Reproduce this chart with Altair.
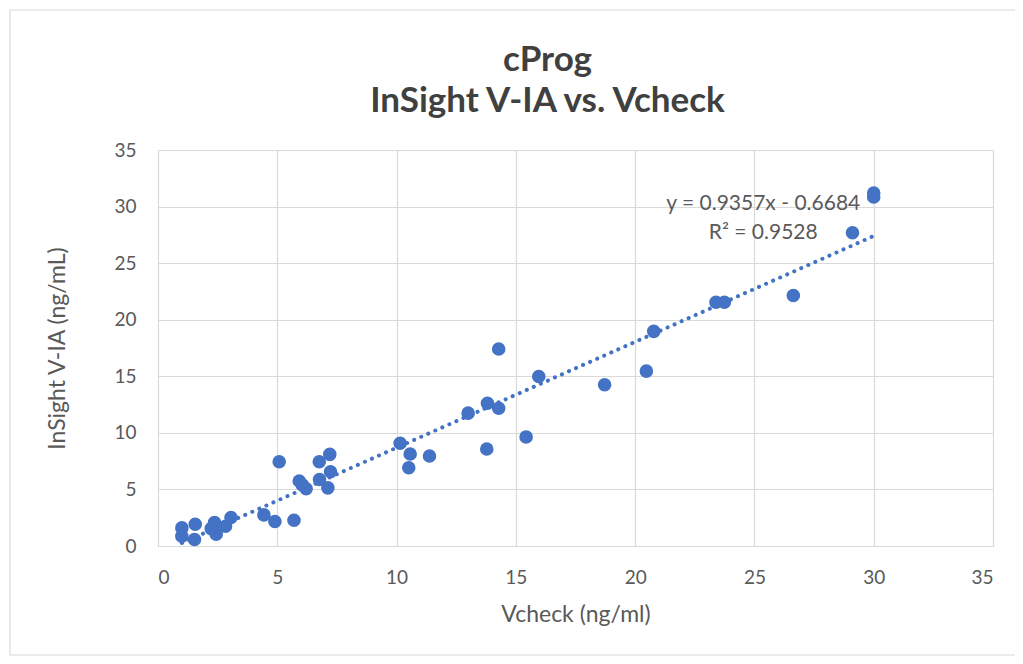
import altair as alt
import pandas as pd

vcheck = [1.0, 1.0, 1.56, 1.53, 2.37, 2.23, 2.44, 2.83, 3.06, 4.44, 4.9, 5.7, 5.08,
          5.92, 6.05, 6.21, 6.76, 7.2, 6.77, 7.23, 7.12, 10.15, 10.57, 10.51, 11.38,
          14.28, 15.96, 13.81, 14.28, 13.0, 18.72, 20.47, 20.78, 15.43, 13.78,
          30.0, 30.0, 29.11, 23.39, 23.74, 26.63]
insight = [1.6, 0.86, 1.92, 0.57, 2.07, 1.54, 1.04, 1.75, 2.52, 2.75, 2.16, 2.28, 7.45,
           5.74, 5.4, 5.06, 7.45, 8.1, 5.88, 6.56, 5.14, 9.08, 8.13, 6.92, 7.95,
           17.41, 14.98, 12.62, 12.18, 11.74, 14.25, 15.46, 18.97, 9.64, 8.57,
           31.2, 30.85, 27.69, 21.54, 21.54, 22.14]

slope = 0.9357
intercept = -0.6684
eq_lines = ["y = 0.9357x - 0.6684", "R² = 0.9528"]
eq_x = [25.37, 25.37]
eq_y = [30.2, 27.7]

FONT = "Lato"
BLUE = "#4472C4"
GREY = "#595959"

df = pd.DataFrame({"x": vcheck, "y": insight})
xmin, xmax = min(vcheck), max(vcheck)
trend = pd.DataFrame({"x": [xmin, xmax],
                      "y": [slope * xmin + intercept, slope * xmax + intercept]})
eq = pd.DataFrame({"x": eq_x, "y": eq_y, "t": eq_lines})

xs = alt.Scale(domain=[0, 35], nice=False)
ys = alt.Scale(domain=[0, 35], nice=False)

common = dict(gridColor="#d9d9d9", gridWidth=1.2, labelFont=FONT, labelFontSize=19,
              labelColor=GREY, titleFont=FONT, titleFontSize=23, titleColor=GREY,
              titleFontWeight="normal", ticks=False, grid=True,
              values=list(range(0, 36, 5)))

xaxis = alt.Axis(title="Vcheck (ng/ml)", domain=True, domainColor="#d9d9d9",
                 domainWidth=1.2, labelPadding=22, titlePadding=16, **common)
yaxis = alt.Axis(title="InSight V-IA (ng/mL)", domain=False, labelPadding=22,
                 titlePadding=44, **common)

frame = alt.Chart(pd.DataFrame({"a": [0]})).mark_rect(
    fill="transparent", stroke="#d9d9d9", strokeWidth=1.2
).encode(x=alt.value(-148), x2=alt.value(860), y=alt.value(-140), y2=alt.value(505))

points = alt.Chart(df).mark_circle(size=185, color=BLUE, opacity=1).encode(
    x=alt.X("x:Q", scale=xs, axis=xaxis),
    y=alt.Y("y:Q", scale=ys, axis=yaxis),
)

line = alt.Chart(trend).mark_line(
    color=BLUE, strokeWidth=4, strokeDash=[0.1, 7.6], strokeCap="round"
).encode(x=alt.X("x:Q", scale=xs), y=alt.Y("y:Q", scale=ys))

text = alt.Chart(eq).mark_text(
    font=FONT, fontSize=21, color=GREY, align="center", baseline="middle"
).encode(x=alt.X("x:Q", scale=xs), y=alt.Y("y:Q", scale=ys), text="t:N")

chart = alt.layer(frame, line, points, text).properties(
    width=835, height=396,
    autosize=alt.AutoSizeParams(type="none"),
    padding={"left": 150, "top": 142, "right": 22, "bottom": 110},
    title=alt.TitleParams(
        text=["cProg", "InSight V-IA vs. Vcheck"], font=FONT, fontSize=35,
        fontWeight="bold", color="#404040", anchor="middle", dx=-28,
        baseline="alphabetic", lineHeight=41, offset=-138, frame="group"),
).configure_view(stroke=None).configure(background="white")

chart.save("out.html", embed_options={"renderer": "svg", "actions": False})
